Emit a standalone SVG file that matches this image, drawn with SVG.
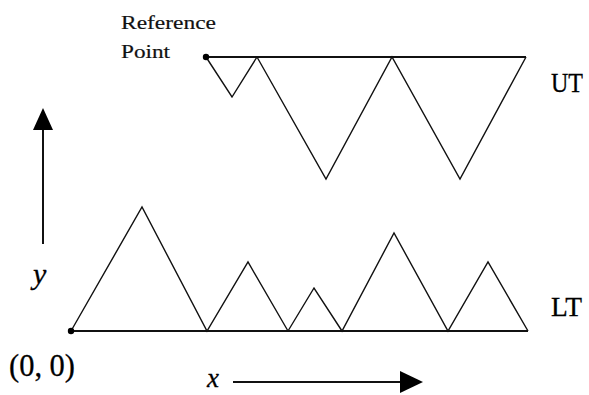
<svg xmlns="http://www.w3.org/2000/svg" width="589" height="395" viewBox="0 0 589 395">
<style>
.zig{fill:none;stroke:#111;stroke-width:1.4;stroke-linejoin:miter}
.base{fill:none;stroke:#111;stroke-width:2}
.ax{fill:none;stroke:#111;stroke-width:2}
.lbl{font-family:"Liberation Serif","Times New Roman",serif;fill:#000;stroke:#000;stroke-width:0.3}
.ref{font-family:"Liberation Serif","Times New Roman",serif;fill:#111;font-size:19px;stroke:#111;stroke-width:0.2}
</style>
<rect width="589" height="395" fill="#fff"/>
<g id="UT">
<line class="base" x1="206" y1="57" x2="526" y2="57"/>
<polyline class="zig" points="206,57 232,97 257,57 326,179 392,57 460,179 526,57"/>
<circle cx="206" cy="57" r="3.2" fill="#000"/>
<text class="lbl" x="551" y="92" font-size="28" textLength="32" lengthAdjust="spacingAndGlyphs">UT</text>
</g>
<g id="refpoint">
<text class="ref" x="121" y="29" textLength="95" lengthAdjust="spacingAndGlyphs">Reference</text>
<text class="ref" x="121" y="58" textLength="49" lengthAdjust="spacingAndGlyphs">Point</text>
</g>
<g id="LT">
<line class="base" x1="71" y1="331" x2="528" y2="331"/>
<polyline class="zig" points="71,331 142,207 207,331 248,262 288,331 314,288 342,331 394,233 448,331 488,262 528,331"/>
<circle cx="71" cy="331" r="3.2" fill="#000"/>
<text class="lbl" x="551" y="316" font-size="28" textLength="31" lengthAdjust="spacingAndGlyphs">LT</text>
<text class="lbl" x="9" y="376" font-size="32" textLength="66" lengthAdjust="spacingAndGlyphs">(0, 0)</text>
</g>
<g id="connectors">
<line class="ax" x1="43" y1="244" x2="43" y2="128"/>
<polygon points="43,108 33,130 53,130" fill="#000"/>
<text class="lbl" x="33" y="284" font-size="30" font-style="italic">y</text>
<line class="ax" x1="233" y1="382" x2="402" y2="382"/>
<polygon points="423,382 400,371 400,393" fill="#000"/>
<text class="lbl" x="207" y="387" font-size="27" font-style="italic">x</text>
</g>
</svg>
